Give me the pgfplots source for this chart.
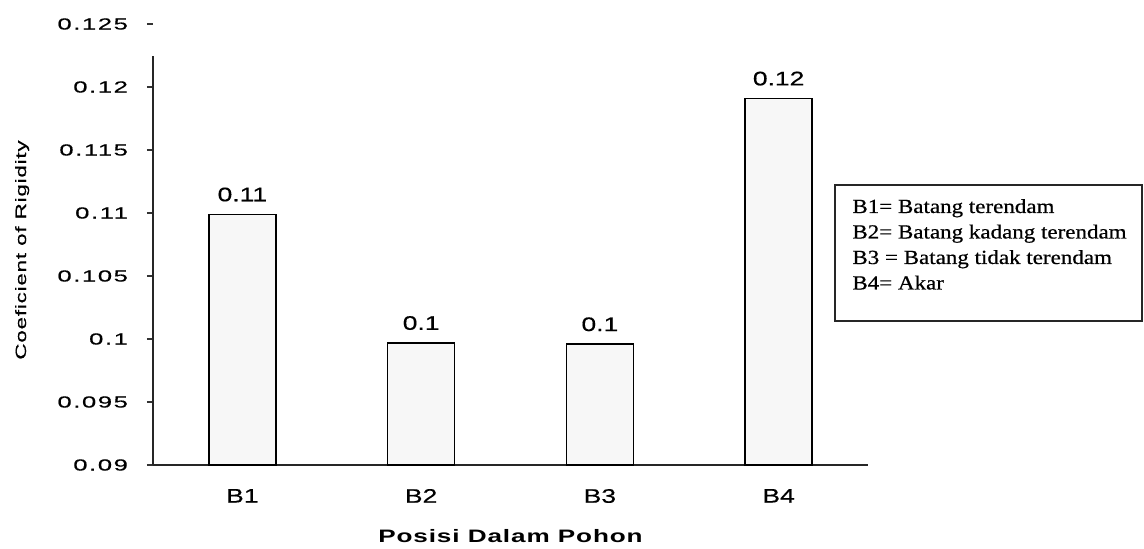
\documentclass[border=0pt]{standalone}
\usepackage{fontspec}
\usepackage{pgfplots}
\pgfplotsset{compat=1.18}
\setmainfont{Liberation Sans}
\newfontfamily\tickfont[FakeStretch=1.6,LetterSpace=10,FakeBold=0.5]{Liberation Sans}
\newfontfamily\valfont[FakeStretch=1.35,FakeBold=0.5]{Liberation Sans}
\newfontfamily\labfont[FakeStretch=1.45,LetterSpace=5]{Liberation Sans}
\newfontfamily\ylabfont[FakeStretch=1.5,LetterSpace=5,FakeBold=0.5]{Liberation Sans}
\newfontfamily\legfont[FakeStretch=1.15,FakeBold=0.6]{Liberation Serif}
\begin{document}
\begin{tikzpicture}
\useasboundingbox (-76.5pt,-42pt) rectangle (495.5pt,232.5pt);
\begin{axis}[
  at={(0,0)}, anchor=south west,
  width=357.5pt, height=220.5pt, scale only axis,
  xmin=-0.5, xmax=3.5, ymin=0.09, ymax=0.125,
  axis x line*=bottom, axis y line*=left,
  axis line style={line width=0.8pt, black!85},
  y axis line style={shorten >=16pt},
  tick align=outside,
  ytick={0.09,0.095,0.1,0.105,0.11,0.115,0.12,0.125},
  yticklabels={0.09,0.095,0.1,0.105,0.11,0.115,0.12,0.125},
  /pgf/number format/assume math mode=true,
  major tick length=3pt,
  ytick style={line width=0.6pt, black!80},
  yticklabel style={font=\tickfont\fontsize{8}{9}\selectfont, xshift=-6pt},
  xtick={0,1,2,3},
  xticklabels={B1,B2,B3,B4},
  x tick style={draw=none},
  xticklabel style={font=\valfont\fontsize{9.8}{11}\selectfont, yshift=-5.5pt},
  extra x ticks={0.5,1.5,2.5},
  extra x tick labels={},
  extra x tick style={tick style={draw=black!80, line width=0.6pt}, major tick length=2.5pt},
  xlabel={Posisi Dalam Pohon},
  xlabel style={at={(axis description cs:0.5,-0.161)}, anchor=center, font=\labfont\bfseries\fontsize{9}{11}\selectfont},
  ylabel={Coeficient of Rigidity},
  ylabel style={at={(axis description cs:-0.183,0.4875)}, anchor=center, rotate=0, font=\ylabfont\fontsize{7.5}{9}\selectfont},
  clip=false,
  ybar, bar width=33.5pt, bar shift=0pt,
  nodes near coords,
  point meta=explicit symbolic,
  every node near coord/.append style={anchor=base, inner sep=0pt, yshift=6.5pt, font=\valfont\fontsize{9.8}{11}\selectfont},
]
\addplot[draw=black, line width=0.75pt, fill=gray!6] coordinates {
  (0,0.1099) [0.11]
  (1,0.0997) [0.1]
  (2,0.0996) [0.1]
  (3,0.1191) [0.12]
};
\end{axis}
\draw[line width=1pt, black!85] (341pt,140pt) rectangle (494.5pt,72pt);
\node[anchor=base west, inner sep=0pt, font=\legfont\fontsize{10}{12}\selectfont] at (349.5pt,126pt) {B1= Batang terendam};
\node[anchor=base west, inner sep=0pt, font=\legfont\fontsize{10}{12}\selectfont] at (349.5pt,113.25pt) {B2= Batang kadang terendam};
\node[anchor=base west, inner sep=0pt, font=\legfont\fontsize{10}{12}\selectfont] at (349.5pt,100.5pt) {B3 = Batang tidak terendam};
\node[anchor=base west, inner sep=0pt, font=\legfont\fontsize{10}{12}\selectfont] at (349.5pt,87.75pt) {B4= Akar};
\end{tikzpicture}
\end{document}
